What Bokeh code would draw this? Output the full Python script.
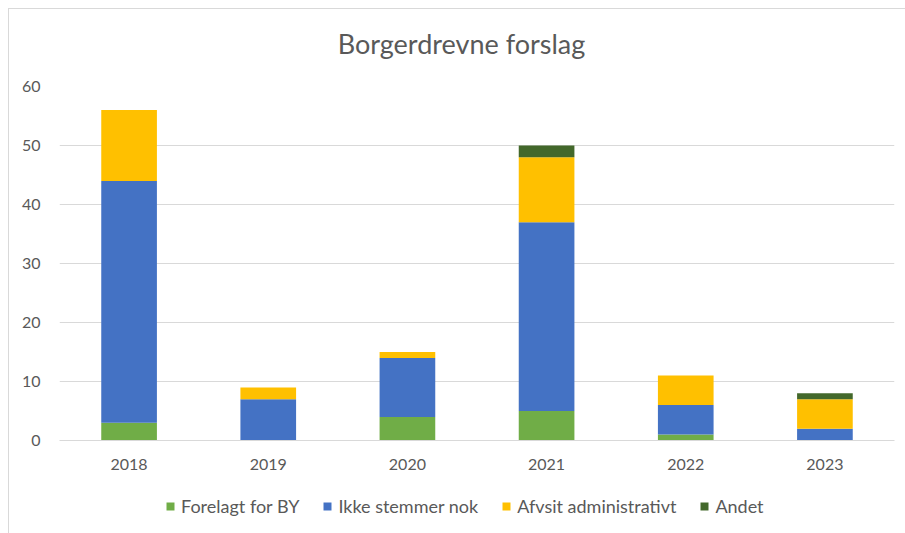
from bokeh.plotting import figure
from bokeh.layouts import column
from bokeh.models import Legend, LegendItem, Range1d, FixedTicker, Label
from bokeh.embed import file_html
from bokeh.resources import INLINE

years = ["2018", "2019", "2020", "2021", "2022", "2023"]
forelagt = [3, 0, 4, 5, 1, 0]
ikke_stemmer = [41, 7, 10, 32, 5, 2]
afvist = [12, 2, 1, 11, 5, 5]
andet = [0, 0, 0, 2, 0, 1]
series_names = ["Forelagt for BY", "Ikke stemmer nok", "Afvsit administrativt", "Andet"]
colors = ["#70AD47", "#4472C4", "#FFC000", "#43682B"]
y_ticks = [0, 10, 20, 30, 40, 50, 60]
title_text = "Borgerdrevne forslag"

FONT = "Lato"
TXT = "#595959"

data = {"year": years, "f": forelagt, "i": ikke_stemmer, "a": afvist, "o": andet}

# title strip
p0 = figure(width=897, height=60, output_backend="svg", toolbar_location=None,
            x_range=Range1d(0, 1), y_range=Range1d(0, 1),
            x_axis_type=None, y_axis_type=None,
            min_border_left=0, min_border_right=0, min_border_top=0, min_border_bottom=0)
p0.outline_line_color = None
p0.add_layout(Label(x=402, y=26, x_units="screen", y_units="screen", text=title_text,
                    text_align="center", text_baseline="middle", text_font=FONT,
                    text_font_size="27px", text_color=TXT))

# main chart
p = figure(x_range=years, width=897, height=421, output_backend="svg",
           toolbar_location=None, min_border_left=50, min_border_right=12,
           min_border_top=17, min_border_bottom=50)
p.y_range = Range1d(0, 60)

p.vbar_stack(["f", "i", "a", "o"], x="year", width=0.4, color=colors,
             source=data, line_color=None)

p.outline_line_color = None
p.xgrid.grid_line_color = None
p.ygrid.grid_line_color = "#d9d9d9"
p.ygrid.grid_line_width = 1
p.yaxis.ticker = FixedTicker(ticks=y_ticks)
p.yaxis.axis_line_color = None
p.yaxis.major_tick_line_color = None
p.yaxis.minor_tick_line_color = None
p.yaxis.major_label_standoff = 13
p.xaxis.axis_line_color = "#d9d9d9"
p.xaxis.major_tick_line_color = None
p.xaxis.major_label_standoff = 12
for ax in (p.xaxis, p.yaxis):
    ax.major_label_text_font = FONT
    ax.major_label_text_font_size = "16px"
    ax.major_label_text_color = TXT
p.x_range.range_padding = 0
p.x_range.factor_padding = 0

# legend strip below the chart
p2 = figure(width=897, height=43, output_backend="svg", toolbar_location=None,
            x_range=Range1d(0, 1), y_range=Range1d(0, 1),
            x_axis_type=None, y_axis_type=None,
            min_border_left=0, min_border_right=0, min_border_top=0, min_border_bottom=0)
p2.outline_line_color = None
legend_renderers = [p2.vbar(x=[0.5], top=[0], bottom=[0], width=0, color=c, line_color=None)
                    for c in colors]
legend = Legend(items=[LegendItem(label=n, renderers=[rr]) for n, rr in zip(series_names, legend_renderers)],
                orientation="horizontal", location=(106, 16))
legend.label_text_font = FONT
legend.label_text_font_size = "18px"
legend.label_text_color = TXT
legend.glyph_width = 10
legend.glyph_height = 10
legend.label_standoff = 6
legend.spacing = 23
legend.border_line_color = None
legend.background_fill_alpha = 0
legend.margin = 0
legend.padding = 0
p2.add_layout(legend, "center")

layout = column(p0, p, p2, spacing=0)
layout.styles = {"border-left": "1px solid #d9d9d9", "border-top": "1px solid #d9d9d9",
                 "margin-left": "8px", "margin-top": "8px"}

open("out.html", "w").write(file_html(layout, INLINE))
